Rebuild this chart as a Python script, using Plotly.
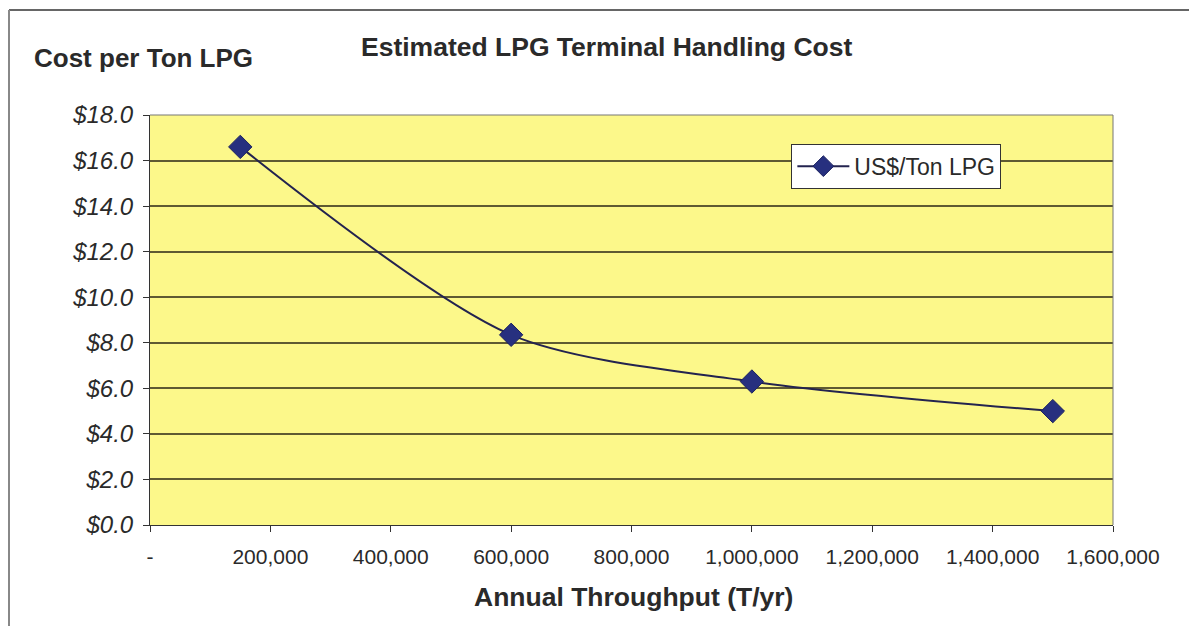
import plotly.graph_objects as go

# Annual throughput (tonnes/yr) and estimated handling cost (US$/ton LPG)
throughput = [150000, 600000, 1000000, 1500000]
cost_per_ton = [16.6, 8.35, 6.3, 5.0]

x_tick_vals = [0, 200000, 400000, 600000, 800000, 1000000, 1200000, 1400000, 1600000]
x_tick_text = ["-", "200,000", "400,000", "600,000", "800,000", "1,000,000",
               "1,200,000", "1,400,000", "1,600,000"]
y_tick_vals = [0, 2, 4, 6, 8, 10, 12, 14, 16, 18]
y_tick_text = ["$%.1f" % v for v in y_tick_vals]

FONT = "Liberation Sans, Arial, sans-serif"
GRID = "#5e5a32"
TEXT = "#2a2a2a"

fig = go.Figure()
fig.add_trace(go.Scatter(
    x=throughput, y=cost_per_ton, name="US$/Ton LPG",
    mode="lines+markers",
    line=dict(color="#23234f", width=2, shape="spline", smoothing=0.8),
    marker=dict(symbol="diamond", size=18, color="#27307f",
                line=dict(color="#1c2260", width=1)),
))

fig.update_layout(
    width=1189, height=626,
    margin=dict(l=150, r=76, t=115, b=101),
    paper_bgcolor="white",
    plot_bgcolor="#fcf88a",
    showlegend=True,
    legend=dict(x=0.666, y=0.93, xanchor="left", yanchor="top",
                bgcolor="white", bordercolor="#333333", borderwidth=1,
                font=dict(family=FONT, size=23, color=TEXT),
                itemwidth=52, tracegroupgap=0),
    xaxis=dict(range=[0, 1600000], tickvals=x_tick_vals, ticktext=x_tick_text,
               showgrid=False, zeroline=False,
               showline=True, linecolor="#333333", linewidth=1, mirror=False,
               ticks="outside", ticklen=6, tickcolor="#333333",
               ticklabelstandoff=7,
               tickfont=dict(family=FONT, size=21, color=TEXT)),
    yaxis=dict(range=[0, 18], tickvals=y_tick_vals, ticktext=y_tick_text,
               showgrid=True, gridcolor=GRID, gridwidth=1.5, zeroline=False,
               showline=True, linecolor="#333333", linewidth=1,
               ticks="outside", ticklen=6, tickcolor="#333333",
               ticklabelstandoff=5,
               tickfont=dict(family=FONT, size=24, color=TEXT, style="italic")),
    annotations=[
        dict(text="<b>Estimated LPG Terminal Handling Cost</b>", xref="paper", yref="paper",
             x=(606 - 150) / 963, y=(525 - 47) / 410, xanchor="center", yanchor="middle",
             showarrow=False, font=dict(family=FONT, size=26.5, color=TEXT)),
        dict(text="<b>Cost per Ton LPG</b>", xref="paper", yref="paper",
             x=(143 - 150) / 963, y=(525 - 58) / 410, xanchor="center", yanchor="middle",
             showarrow=False, font=dict(family=FONT, size=26, color=TEXT)),
        dict(text="<b>Annual Throughput (T/yr)</b>", xref="paper", yref="paper",
             x=(633 - 150) / 963, y=(525 - 597) / 410, xanchor="center", yanchor="middle",
             showarrow=False, font=dict(family=FONT, size=26.5, color=TEXT)),
    ],
    shapes=[
        # right border of the plotting area
        dict(type="line", xref="paper", yref="paper", x0=1, x1=1, y0=0, y1=1,
             line=dict(color="#777777", width=1)),
        # top border of the plotting area
        dict(type="line", xref="paper", yref="paper", x0=0, x1=1, y0=1, y1=1,
             line=dict(color="#777777", width=1)),
    ],
)

# Frame around the whole chart (top and left edges)
fig.add_shape(type="line", xref="paper", yref="paper",
              x0=(9 - 150) / 963, x1=(1189 - 150) / 963,
              y0=(525 - 10) / 410, y1=(525 - 10) / 410,
              line=dict(color="#666666", width=2))
fig.add_shape(type="line", xref="paper", yref="paper",
              x0=(9 - 150) / 963, x1=(9 - 150) / 963,
              y0=(525 - 10) / 410, y1=(525 - 626) / 410,
              line=dict(color="#888888", width=2))

fig.write_html("out.html")
